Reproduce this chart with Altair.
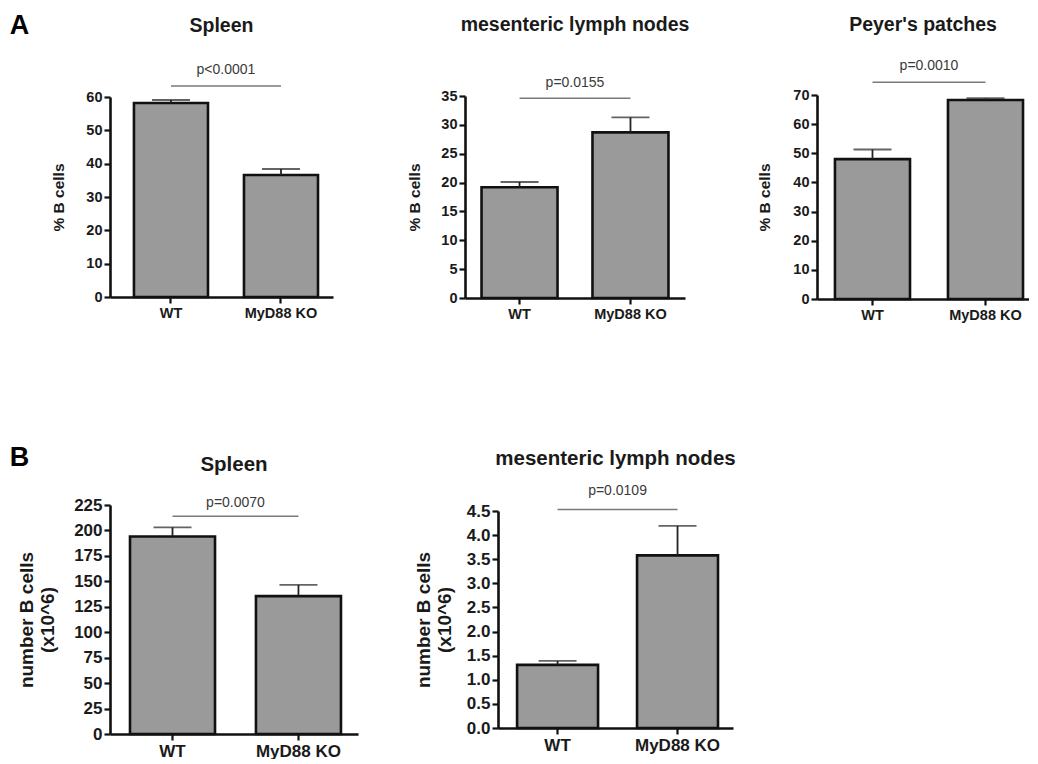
import altair as alt
import pandas as pd

groups = ["WT", "MyD88 KO"]

# ---- Panel A: % B cells ----
a_titles = ["Spleen", "mesenteric lymph nodes", "Peyer's patches"]
a_means = [[58.2, 36.6], [19.2, 28.7], [48.0, 68.3]]
a_sems = [[0.9, 1.8], [0.9, 2.6], [3.3, 0.6]]
a_pvals = ["p<0.0001", "p=0.0155", "p=0.0010"]
a_pline = [63.3, 34.6, 74.4]
a_ymax = [60, 35, 70]
a_ticks = [
    [0, 10, 20, 30, 40, 50, 60],
    [0, 5, 10, 15, 20, 25, 30, 35],
    [0, 10, 20, 30, 40, 50, 60, 70],
]

# ---- Panel B: number of B cells (x10^6) ----
b_titles = ["Spleen", "mesenteric lymph nodes"]
b_means = [[194.0, 135.5], [1.31, 3.58]]
b_sems = [[9.0, 11.0], [0.08, 0.61]]
b_pvals = ["p=0.0070", "p=0.0109"]
b_pline = [214.0, 4.53]
b_ymax = [225, 4.5]
b_ticks = [
    [0, 25, 50, 75, 100, 125, 150, 175, 200, 225],
    [0.0, 0.5, 1.0, 1.5, 2.0, 2.5, 3.0, 3.5, 4.0, 4.5],
]

FONT = "Liberation Sans"
INK = "#1a1a1a"


def panel(title, means, sems, pval, pline, ymax, ticks, ytitle, width, height,
          fmt, title_offset, title_size, title_pad, label_size, axis_title_size,
          pi, po, align, text_dy):
    df = pd.DataFrame({
        "group": groups,
        "mean": means,
        "top": [m + s for m, s in zip(means, sems)],
    })
    pdf = pd.DataFrame({"g1": [groups[0]], "g2": [groups[1]], "y": [pline], "label": [pval]})

    xscale = alt.Scale(domain=groups, paddingInner=pi, paddingOuter=po, align=align)
    xaxis = alt.Axis(title=None, labelAngle=0, labelFontSize=label_size, labelPadding=3)
    yscale = alt.Scale(domain=[0, ymax], nice=False, zero=True)
    yaxis = alt.Axis(values=ticks, format=fmt, title=ytitle, titlePadding=title_pad,
                     titleFontSize=axis_title_size, labelFontSize=label_size,
                     labelPadding=2, labelOverlap=False, grid=False)

    def Y(field):
        return alt.Y(field, scale=yscale, axis=yaxis)

    # the p-value text sits midway between the two band centres:
    # from the end of the WT band that is half of the inner gap
    step = width / (2 - pi + 2 * po)
    gap_half = pi * step / 2

    bars = alt.Chart(df).mark_bar(color="#9a9a9a", stroke="#111111", strokeWidth=2.6).encode(
        x=alt.X("group:N", scale=xscale, axis=xaxis),
        y=Y("mean:Q"),
    )
    err = alt.Chart(df).mark_rule(color="#222222", strokeWidth=1.8).encode(
        x=alt.X("group:N", scale=xscale, axis=xaxis), y=Y("mean:Q"), y2="top:Q"
    )
    cap = alt.Chart(df).mark_tick(color="#222222", thickness=1.8, size=38, orient="horizontal").encode(
        x=alt.X("group:N", scale=xscale, axis=xaxis), y=Y("top:Q")
    )
    prule = alt.Chart(pdf).mark_rule(color="#7a7a7a", strokeWidth=1.5).encode(
        x=alt.X("g1:N", scale=xscale, axis=xaxis), x2="g2:N", y=Y("y:Q")
    )
    ptext = alt.Chart(pdf).mark_text(dy=text_dy, dx=gap_half, fontSize=14,
                                     color="#3a3a3a", font=FONT).encode(
        x=alt.X("g1:N", scale=xscale, axis=xaxis, bandPosition=1),
        y=Y("y:Q"), text="label:N"
    )
    return alt.layer(bars, err, cap, prule, ptext).properties(
        width=width, height=height,
        title=alt.TitleParams(title, fontSize=title_size, fontWeight="bold", font=FONT,
                              color=INK, offset=title_offset),
    )


a_widths = [223, 220, 212]
a_heights = [200, 202, 204]
a_offsets = [27, 41, 24]
a_pads = [19, 18, 20]
a_pi = [0.327, 0.315, 0.336]
a_po = [0.177, 0.149, 0.106]
a_align = [0.615, 0.5, 0.75]
a_dy = [-16, -15, -16]
a_panels = [
    panel(a_titles[i], a_means[i], a_sems[i], a_pvals[i], a_pline[i], a_ymax[i],
          a_ticks[i], "% B cells", a_widths[i], a_heights[i], "d", a_offsets[i],
          19.5, a_pads[i], 14.5, 15.5, a_pi[i], a_po[i], a_align[i], a_dy[i])
    for i in range(3)
]

b_widths = [248, 235]
b_heights = [229, 217]
b_offsets = [21, 14]
b_fmts = ["d", ".1f"]
b_pads = [16, 12]
b_pi = [0.325, 0.325]
b_po = [0.147, 0.142]
b_align = [0.54, 0.56]
b_dy = [-13, -19]
b_panels = [
    panel(b_titles[i], b_means[i], b_sems[i], b_pvals[i], b_pline[i], b_ymax[i],
          b_ticks[i], ["number B cells", "(x10^6)"], b_widths[i], b_heights[i],
          b_fmts[i], b_offsets[i], 20.5, b_pads[i], 17, 19, b_pi[i], b_po[i],
          b_align[i], b_dy[i])
    for i in range(2)
]

row_a = alt.hconcat(
    *a_panels, spacing=132, bounds="flush", center=True,
    title=alt.TitleParams("A", anchor="start", fontSize=27, fontWeight="bold",
                          font=FONT, color="#000000", dx=-42, offset=-25),
)
row_b = alt.hconcat(
    *b_panels, spacing=140, bounds="flush", center=True,
    title=alt.TitleParams("B", anchor="start", fontSize=27, fontWeight="bold",
                          font=FONT, color="#000000", dx=-8, offset=-23),
)

chart = alt.vconcat(row_a, row_b, spacing=410, bounds="flush").properties(
    padding={"left": 1, "top": 3, "right": 0, "bottom": 0},
    background="white",
).configure_view(stroke=None).configure_axis(
    grid=False,
    domainColor="#111111", domainWidth=2.6,
    tickColor="#111111", tickWidth=2.2, tickSize=6,
    labelFont=FONT, labelFontWeight="bold", labelColor=INK,
    titleFont=FONT, titleFontWeight="bold", titleColor=INK,
)

chart.save("out.html", embed_options={"renderer": "svg", "actions": False})
